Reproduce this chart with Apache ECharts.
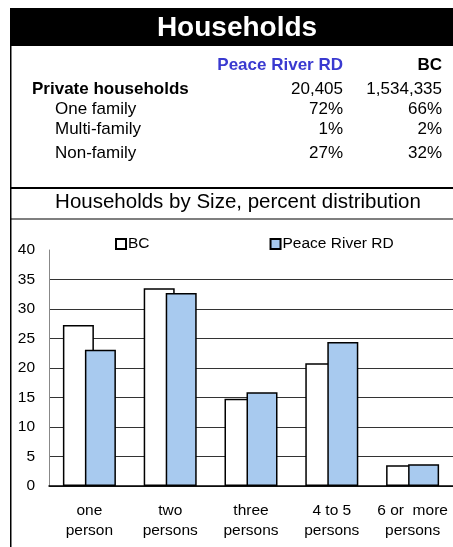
<!DOCTYPE html>
<html><head><meta charset="utf-8">
<script src="https://cdn.jsdelivr.net/npm/echarts@6/dist/echarts.min.js"></script>
<style>html,body{margin:0;padding:0;background:#fff}#c{width:453px;height:547px}</style>
</head><body><div id="c"></div>
<script>
const categories = ['one\nperson', 'two\npersons', 'three\npersons', '4 to 5\npersons', '6 or  more\npersons'];
const bcValues = [27.3, 33.5, 14.8, 20.8, 3.5];
const prValues = [23.1, 32.7, 15.9, 24.4, 3.7];
const seriesNames = ['BC', 'Peace River RD'];
const yTicks = [0, 40, 5];
const tableHeader = ['Peace River RD', 'BC'];
const tableRows = [
  ['Private households', '20,405', '1,534,335'],
  ['One family', '72%', '66%'],
  ['Multi-family', '1%', '2%'],
  ['Non-family', '27%', '32%']
];
const FF = 'Liberation Sans, Arial, sans-serif';
const chart = echarts.init(document.getElementById('c'));
const rowY = [89, 109, 129, 153];
const graphics = [
  {type:'rect', shape:{x:10,y:8,width:443,height:38}, style:{fill:'#000'}},
  {type:'text', x:237, y:28, style:{text:'Households', fill:'#fff', font:'bold 28px '+FF, align:'center', verticalAlign:'middle'}},
  {type:'rect', shape:{x:10,y:8,width:1.5,height:539}, style:{fill:'#000'}},
  {type:'rect', shape:{x:10,y:187,width:443,height:2}, style:{fill:'#000'}},
  {type:'rect', shape:{x:10,y:218.5,width:443,height:1}, style:{fill:'#000'}},
  {type:'text', x:343, y:65, style:{text:tableHeader[0], fill:'#3a3ad0', font:'bold 17px '+FF, align:'right', verticalAlign:'middle'}},
  {type:'text', x:442, y:65, style:{text:tableHeader[1], fill:'#000', font:'bold 17px '+FF, align:'right', verticalAlign:'middle'}},
  {type:'text', x:238, y:202, style:{text:'Households by Size, percent distribution', fill:'#000', font:'20.5px '+FF, align:'center', verticalAlign:'middle'}}
];
tableRows.forEach((r, i) => {
  graphics.push({type:'text', x: i===0?32:55, y:rowY[i], style:{text:r[0], fill:'#000', font:(i===0?'bold ':'')+'17px '+FF, align:'left', verticalAlign:'middle'}});
  graphics.push({type:'text', x:343, y:rowY[i], style:{text:r[1], fill:'#000', font:'17px '+FF, align:'right', verticalAlign:'middle'}});
  graphics.push({type:'text', x:442, y:rowY[i], style:{text:r[2], fill:'#000', font:'17px '+FF, align:'right', verticalAlign:'middle'}});
});
chart.setOption({
  animation:false,
  textStyle:{fontFamily:FF},
  graphic: graphics,
  legend:{
    left:110, top:231, itemWidth:10, itemHeight:10, itemGap:120, icon:'rect',
    textStyle:{fontSize:15.5, color:'#000', fontFamily:FF, padding:[0,0,0,-3]},
    data:seriesNames
  },
  grid:{left:49, right:0, top:250, bottom:61},
  xAxis:{
    type:'category', data:categories,
    axisLine:{lineStyle:{color:'#000', width:1.5}},
    axisTick:{show:false},
    axisLabel:{color:'#000', fontSize:15.5, fontFamily:FF, margin:15, lineHeight:20, interval:0}
  },
  yAxis:{
    type:'value', min:yTicks[0], max:yTicks[1], interval:yTicks[2],
    axisLine:{show:true, lineStyle:{color:'#888'}},
    axisTick:{show:false},
    splitLine:{showMaxLine:false, lineStyle:{color:'#333', width:1}},
    axisLabel:{color:'#000', fontSize:15.5, fontFamily:FF, margin:14}
  },
  series:[
    {name:seriesNames[0], type:'bar', data:bcValues, barWidth:31, barGap:'-29%',
     itemStyle:{color:'#fff', borderColor:'#000', borderWidth:1.5}},
    {name:seriesNames[1], type:'bar', data:prValues, barWidth:31,
     itemStyle:{color:'#a8caef', borderColor:'#000', borderWidth:1.5}}
  ]
});
</script></body></html>
